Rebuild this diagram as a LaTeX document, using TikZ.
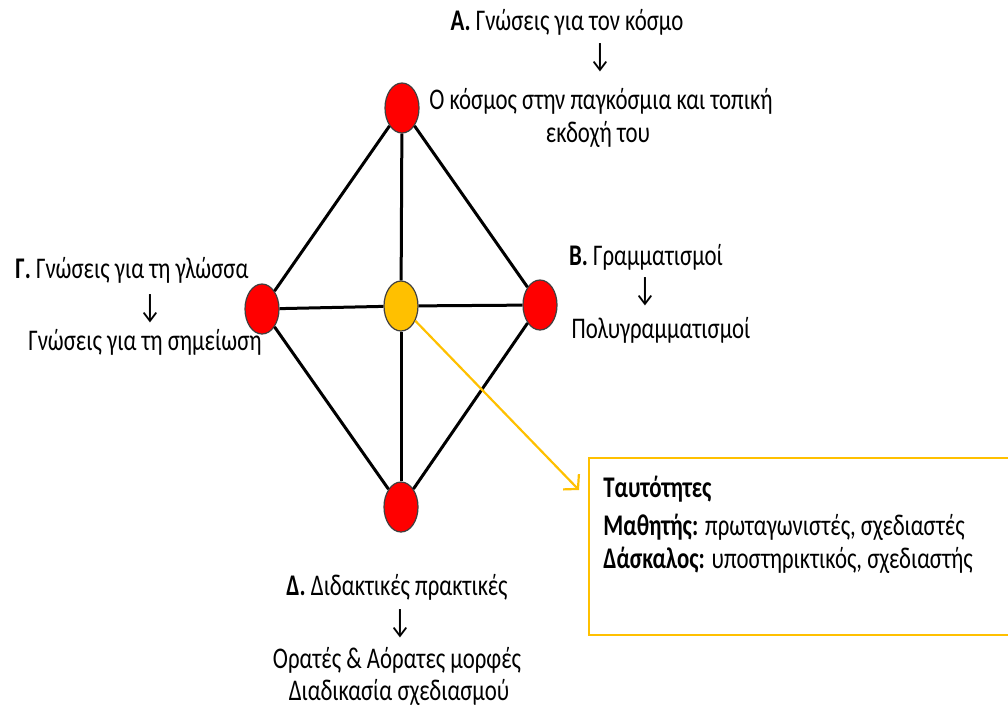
\documentclass[tikz,border=0pt]{standalone}
\usepackage{fontspec}
\setmainfont{Carlito}[FakeStretch=0.76]
\usetikzlibrary{shapes.geometric,arrows.meta}
\definecolor{gold}{HTML}{FFC000}
\tikzset{
  vertex/.style={ellipse, draw=black!75, line width=0.6pt, fill=red,
    minimum width=17pt, minimum height=25pt, inner sep=0pt},
  edge/.style={line width=1.5pt, black},
  txt/.style={font=\fontsize{15}{17}\selectfont, inner sep=0pt, anchor=base},
  txtl/.style={txt, anchor=base west},
  down/.style={font=\fontsize{17}{19}\selectfont, inner sep=0pt},
  pointer/.style={gold, line width=1.1pt, -{Straight Barb[length=5pt,width=11pt]}}
}
\begin{document}
\begin{tikzpicture}[x=0.5pt,y=-0.5pt]
\useasboundingbox (0,0) rectangle (1008,714);
%вершины
\node[vertex] (A) at (402,108) {};
\node[vertex] (L) at (262,309) {};
\node[vertex] (R) at (540,305) {};
\node[vertex] (D) at (401,507) {};
\node[vertex, fill=gold] (Y) at (401,306) {};
%рёбра
\foreach \a/\b in {A/L,A/R,L/D,R/D,A/Y,Y/D,L/Y,Y/R}
  \draw[edge] (\a) -- (\b);
%подписи
\node[txt] (tA) at (567,30) {\textbf{Α.} Γνώσεις για τον κόσμο};
\node[down] (dA) at (600,58) {↓};
\node[txt] (tA1) at (601,109) {Ο κόσμος στην παγκόσμια και τοπική};
\node[txt] (tA2) at (598,142) {εκδοχή του};
\node[txt] (tB) at (646,265) {\textbf{Β.} Γραμματισμοί};
\node[down] (dB) at (645,292) {↓};
\node[txt] (tB1) at (661,338) {Πολυγραμματισμοί};
\node[txt] (tC) at (132,278) {\textbf{Γ.} Γνώσεις για τη γλώσσα};
\node[down] (dC) at (150,309) {↓};
\node[txt] (tC1) at (145,350) {Γνώσεις για τη σημείωση};
\node[txt] (tD) at (397,595) {\textbf{Δ.} Διδακτικές πρακτικές};
\node[down] (dD) at (400,624) {↓};
\node[txt] (tD1) at (397,668) {Ορατές \& Αόρατες μορφές};
\node[txt] (tD2) at (399,700) {Διαδικασία σχεδιασμού};
%ταυτότητες
\draw[gold, line width=1pt] (589,458) rectangle (1014,635);
\coordinate (tip) at (579,490);
\draw[pointer] (Y) -- (tip);
\node[txtl] (b1) at (603,497) {\textbf{Ταυτότητες}};
\node[txtl] (b2) at (603,535) {\textbf{Μαθητής:} πρωταγωνιστές, σχεδιαστές};
\node[txtl] (b3) at (603,568) {\textbf{Δάσκαλος:} υποστηρικτικός, σχεδιαστής};
\end{tikzpicture}
\end{document}
